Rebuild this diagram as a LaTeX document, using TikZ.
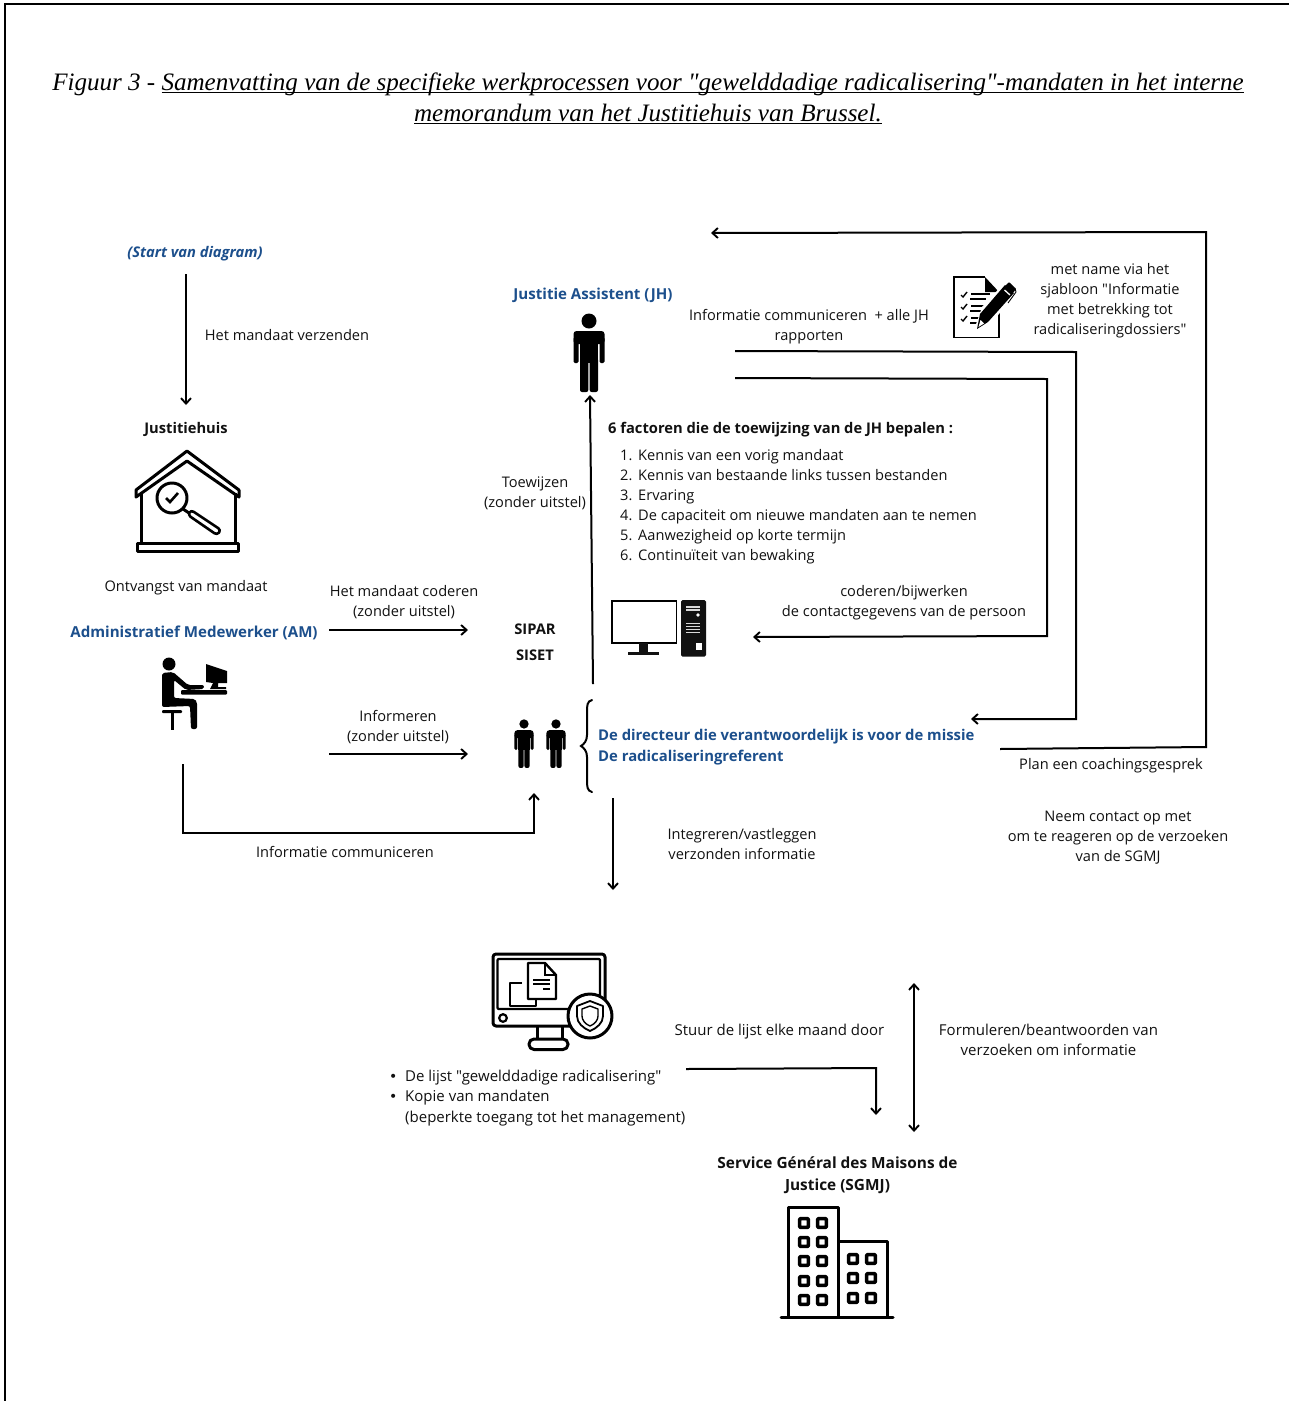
\documentclass[tikz,border=0pt]{standalone}
\usepackage{fontspec}
\newfontfamily\osans{Open Sans}
\newfontfamily\djv{DejaVu Sans}
\newfontfamily\titlefont{Liberation Serif}
\usetikzlibrary{arrows.meta}
\definecolor{dblue}{HTML}{1C4F8C}
\definecolor{ink}{HTML}{111111}
\newsavebox{\ulbox}
\newcommand{\myul}[1]{\sbox{\ulbox}{#1}\rlap{\rule[-3pt]{\wd\ulbox}{1pt}}\usebox{\ulbox}}
\tikzset{
 txt/.style={font=\osans\fontsize{14.6}{20}\selectfont, align=center, inner sep=0, text=ink},
 txtb/.style={font=\osans\fontsize{15}{20.5}\selectfont, align=center, inner sep=0, text=ink},
 single/.style={text height=11pt, text depth=3.5pt, yshift=-2pt},
 ltxt/.style={txt, single, anchor=west, align=left},
 ltxtb/.style={txtb, single, anchor=west, align=left},
 bullet/.style={txtb, anchor=base west, font=\djv\fontsize{14}{14}\selectfont, text height=0pt, text depth=0pt},
 bold/.style={txt, single, font=\osans\fontsize{14.7}{21.5}\selectfont\bfseries},
 lbold/.style={bold, anchor=west},
 blue/.style={bold, text=dblue, font=\osans\fontsize{15}{21.5}\selectfont\bfseries},
 lblue/.style={blue, anchor=west, font=\osans\fontsize{14.85}{21.5}\selectfont\bfseries},
 conn/.style={draw=black, line width=2pt},
 arrow/.style={conn, -{Straight Barb[length=5.5pt,width=10pt,line width=1.9pt]}},
 biarrow/.style={conn, {Straight Barb[length=5.5pt,width=10pt,line width=1.9pt]}-{Straight Barb[length=5.5pt,width=10pt,line width=1.9pt]}},
 icon/.style={draw=black, line width=3pt, line join=round},
 frameline/.style={draw=black, line width=2pt},
}
\newcommand{\personicon}[3]{%
 \begin{scope}[shift={(#1,#2)},scale=#3]
  \fill (0,8) circle (7.5);
  \fill[rounded corners=3pt] (-15.5,18) rectangle (15.5,31);
  \fill[rounded corners=1.5pt] (-15.5,24) rectangle (-10.5,50);
  \fill[rounded corners=1.5pt] (10.5,24) rectangle (15.5,50);
  \fill (-9,24) rectangle (9,50);
  \fill[rounded corners=2pt] (-9,45) rectangle (-0.7,79);
  \fill[rounded corners=2pt] (0.7,45) rectangle (9,79);
 \end{scope}}
\begin{document}
\begin{tikzpicture}[x=1pt,y=-1pt]
\useasboundingbox (0,0) rectangle (1289,1401);
\fill[white] (0,0) rectangle (1289,1401);
% page frame
\draw[frameline] (5,1401) -- (5,3.5) -- (1289,3.5);
% title
\node[inner sep=0, align=center, font=\titlefont\itshape\fontsize{25.06}{31}\selectfont] (title) at (648,98.5)
 {Figuur 3 - \myul{Samenvatting van de specifieke werkprocessen voor "gewelddadige radicalisering"-mandaten in het interne}\\
  \myul{memorandum van het Justitiehuis van Brussel.}};
% texts
\node[txt, single, text=dblue, font=\osans\fontsize{14.7}{20}\selectfont\bfseries\itshape] (start) at (195,252) {(Start van diagram)};
\node[txt, single] (verz) at (287,335) {Het mandaat verzenden};
\node[bold] (jh) at (186,428) {Justitiehuis};
\node[txt, single] (ontv) at (186,586) {Ontvangst van mandaat};
\node[blue, font=\osans\fontsize{15.1}{21.5}\selectfont\bfseries] (am) at (194,632) {Administratief Medewerker (AM)};
\node[txt] (cod) at (404,602) {Het mandaat coderen\\(zonder uitstel)};
\node[bold] (sipar) at (535,629) {SIPAR};
\node[bold] (siset) at (535,655) {SISET};
\node[txt] (info) at (398,727) {Informeren\\(zonder uitstel)};
\node[txt] (toew) at (535,493) {Toewijzen\\(zonder uitstel)};
\node[blue, font=\osans\fontsize{15.1}{21.5}\selectfont\bfseries] (ja) at (593,294) {Justitie Assistent (JH)};
\node[txt] (comm) at (809,327) {Informatie communiceren\ \ + alle JH\\rapporten};
\node[txt] (name) at (1110,301) {met name via het\\sjabloon "Informatie\\met betrekking tot\\radicaliseringdossiers"};
\node[lbold] (fact) at (608,428) {6 factoren die de toewijzing van de JH bepalen :};
\node[ltxt] (n1) at (620,455) {1.}; \node[ltxt] (f1) at (638,455) {Kennis van een vorig mandaat};
\node[ltxt] (n2) at (620,475) {2.}; \node[ltxt] (f2) at (638,475) {Kennis van bestaande links tussen bestanden};
\node[ltxt] (n3) at (620,495) {3.}; \node[ltxt] (f3) at (638,495) {Ervaring};
\node[ltxt] (n4) at (620,515) {4.}; \node[ltxt] (f4) at (638,515) {De capaciteit om nieuwe mandaten aan te nemen};
\node[ltxt] (n5) at (620,535) {5.}; \node[ltxt] (f5) at (638,535) {Aanwezigheid op korte termijn};
\node[ltxt] (n6) at (620,555) {6.}; \node[ltxt] (f6) at (638,555) {Continuïteit van bewaking};
\node[txt] (cb) at (904,603) {coderen/bijwerken\\de contactgegevens van de persoon};
\node[lblue] (dir) at (598,734.5) {De directeur die verantwoordelijk is voor de missie};
\node[lblue] (ref) at (598,755.5) {De radicaliseringreferent};
\node[txt, single] (plan) at (1111,764) {Plan een coachingsgesprek};
\node[txt] (neem) at (1118,838) {Neem contact op met\\om te reageren op de verzoeken\\van de SGMJ};
\node[txt] (integ) at (742,844) {Integreren/vastleggen\\verzonden informatie};
\node[txt, single] (ic) at (345,852) {Informatie communiceren};
\node[txtb, single] (stuur) at (779.5,1030) {Stuur de lijst elke maand door};
\node[txtb] (form) at (1048.5,1040) {Formuleren/beantwoorden van\\verzoeken om informatie};
\node[bullet] (b1) at (389,1081) {\textbullet}; \node[ltxtb] (l1) at (405,1076) {De lijst "gewelddadige radicalisering"};
\node[bullet] (b2) at (389,1101) {\textbullet}; \node[ltxtb] (l2) at (405,1096) {Kopie van mandaten};
\node[ltxtb] (l3) at (405,1117) {(beperkte toegang tot het management)};
\node[txt, font=\osans\fontsize{15.4}{21.5}\selectfont\bfseries] (sgmj) at (837.5,1175) {Service Général des Maisons de\\Justice (SGMJ)};
% connector ends
\coordinate (a1s) at (186,274); \coordinate (a1e) at (186,405);
\coordinate (a2s) at (329,630); \coordinate (a2e) at (468,630);
\coordinate (a3s) at (329,754); \coordinate (a3e) at (468,754);
\coordinate (a4s) at (183,764); \coordinate (a4m) at (183,833); \coordinate (a4n) at (534,833); \coordinate (a4e) at (534,793);
\coordinate (a5s) at (593,684); \coordinate (a5e) at (590,395);
\coordinate (a6s) at (735,351); \coordinate (a6m) at (1076,352); \coordinate (a6n) at (1076,719); \coordinate (a6e) at (971,719);
\coordinate (a7s) at (735,378); \coordinate (a7m) at (1047,379); \coordinate (a7n) at (1047,636); \coordinate (a7e) at (753,637);
\coordinate (a8s) at (1000,749); \coordinate (a8m) at (1206,747); \coordinate (a8n) at (1206,232); \coordinate (a8e) at (711,233);
\coordinate (a9s) at (613,798); \coordinate (a9e) at (613,890);
\coordinate (a10s) at (686,1069); \coordinate (a10m) at (876,1068); \coordinate (a10e) at (876,1115);
\coordinate (a11s) at (914,983); \coordinate (a11e) at (914,1132);
\draw[arrow] (a1s) -- (a1e);
\draw[arrow] (a2s) -- (a2e);
\draw[arrow] (a3s) -- (a3e);
\draw[arrow] (a4s) -- (a4m) -- (a4n) -- (a4e);
\draw[arrow] (a5s) -- (a5e);
\draw[arrow] (a6s) -- (a6m) -- (a6n) -- (a6e);
\draw[arrow] (a7s) -- (a7m) -- (a7n) -- (a7e);
\draw[arrow] (a8s) -- (a8m) -- (a8n) -- (a8e);
\draw[arrow] (a9s) -- (a9e);
\draw[arrow] (a10s) -- (a10m) -- (a10e);
\draw[biarrow] (a11s) -- (a11e);
% brace
\draw[line width=2pt, line cap=round] (592,700) .. controls (587,701) and (587,706) .. (587,712) -- (587,735) .. controls (587,741) and (584,744) .. (581,746) .. controls (584,748) and (587,751) .. (587,757) -- (587,780) .. controls (587,786) and (587,791) .. (592,792);
% persons
\personicon{589}{313}{1}
\personicon{524}{719}{0.62}
\personicon{556}{719}{0.62}
% house icon
\draw[icon] (136,490) -- (187,451) -- (239,490) -- (239,497) -- (187,461) -- (136,497) -- cycle;
\draw[icon] (141,493) -- (141,543); \draw[icon] (235,493) -- (235,543);
\draw[icon] (137,543) rectangle (238,551);
\draw[icon] (172,498) circle (15);
\draw[icon] (183,509) -- (189,513);
\draw[icon, line width=2.6pt, rounded corners=3pt] (188,515) -- (191,510) -- (221,530) -- (217,535) -- cycle;
\draw[line width=2.6pt] (166,498) -- (170,502) -- (178,493);
% AM desk icon
\fill (169,664) circle (6.5);
\fill[rounded corners=2pt] (162,673) -- (173,672) -- (188,685) -- (204,685) -- (204,689) -- (186,690) -- (174,680) -- (174,698) -- (195,699) -- (197,702) -- (197,729) -- (191,729) -- (190,706) -- (162,707) -- cycle;
\fill[rounded corners=1pt] (162,710) rectangle (182,713);
\fill (170.5,712) rectangle (174,730);
\fill[rounded corners=1pt] (181,690) rectangle (227,694.5);
\fill (206,664) -- (227,671) -- (227,683) -- (218,683) -- (218,687) -- (226,687) -- (226,689) -- (210,689) -- (213,683) -- (206,682) -- cycle;
% SIPAR computer
\draw[line width=1.8pt] (612,601) rectangle (676.5,643);
\fill[ink] (639,643) rectangle (648,652);
\fill[ink] (628,652) rectangle (659,654.5);
\fill[ink, rounded corners=1.5pt] (681,600) rectangle (706,656.5);
\fill[white!85!black] (686,606) rectangle (700,607.5);
\fill[white!85!black] (686,609) rectangle (700,610.5);
\fill[white] (698,615) circle (1.8);
\foreach \yy in {623,626,629,632} \fill[white!85!black] (686,\yy) rectangle (700,\yy+1.4);
\fill[white] (696,642.5) rectangle (702,649.5);
% document icon
\draw[line width=1.6pt] (985,277) -- (954,277) -- (954,337.5) -- (999,337.5) -- (999,292);
\fill (985,277) -- (999,292) -- (985,292) -- cycle;
\foreach \yy in {295,307,319} {
 \draw[line width=1.4pt] (961,\yy) -- (963,\yy+2) -- (967,\yy-3);
 \draw[line width=1.6pt] (971,\yy-1) -- (990,\yy-1);
 \draw[line width=1.6pt] (970,\yy+4) -- (986,\yy+4);
}
\fill[white] (974,330) -- (982,307) -- (1006,281) -- (1018,292) -- (992,322) -- cycle;
\fill (977,329) -- (980,314) -- (1005,285) -- (1014,293) -- (988,322) -- cycle;
\fill[white] (978.5,327) -- (980.5,320) -- (984,323.5) -- cycle;
\fill[rounded corners=1pt] (1005,286) -- (1009,282) -- (1016,289) -- (1013,293) -- cycle;
\draw[white, line width=1.3pt] (1004.5,290) -- (1010,295);
\draw[line width=0.9pt] (1015,288) -- (1016,292) -- (1008,303);
% secure monitor icon
\draw[icon, rounded corners=3pt] (493,954) rectangle (605,1026);
\draw[icon, line width=2.2pt, rounded corners=1pt] (497.5,1009) -- (497.5,959) -- (600,959) -- (600,1009) -- cycle;
\draw[icon, line width=2.2pt] (503,1018) circle (3.8);
\draw[icon] (537,1026) -- (537,1039); \draw[icon] (562,1026) -- (562,1039);
\draw[icon, rounded corners=5pt] (529,1039) rectangle (568,1049.5);
\draw[icon, line width=2.4pt] (522,983) -- (510,983) -- (510,1006) -- (536,1006) -- (536,999);
\draw[icon, line width=2.4pt, fill=white] (528,963) -- (545,963) -- (556,975) -- (556,999) -- (528,999) -- cycle;
\draw[line width=1.8pt] (545,963) -- (545,975) -- (556,975);
\draw[line width=1.8pt] (533,980) -- (550,980); \draw[line width=1.8pt] (533,984) -- (550,984); \draw[line width=1.8pt] (543,989) -- (550,989);
\draw[icon, fill=white] (590,1016) circle (22);
\draw[line width=1.8pt, line join=round] (590,1001) -- (603,1006) -- (603,1016) .. controls (603,1023) and (597,1028) .. (590,1031) .. controls (583,1028) and (577,1023) .. (577,1016) -- (577,1006) -- cycle;
\draw[line width=1.4pt, line join=round] (590,1006) -- (598,1009) -- (598,1016) .. controls (598,1020) and (595,1024) .. (590,1026) .. controls (585,1024) and (582,1020) .. (582,1016) -- (582,1009) -- cycle;
% building icon
\draw[icon, line cap=round] (781,1317) -- (893,1317);
\draw[icon] (788,1317) -- (788,1207) -- (838,1207) -- (838,1317);
\draw[icon] (838,1241) -- (887,1241) -- (887,1317);
\foreach \yy in {1223,1242,1261,1281,1300} \foreach \xx in {804,822}
 \draw[icon, line width=3.6pt, rounded corners=1pt] (\xx-4.4,\yy-4.4) rectangle (\xx+4.4,\yy+4.4);
\foreach \yy in {1259,1278,1298} \foreach \xx in {853,871}
 \draw[icon, line width=3.6pt, rounded corners=1pt] (\xx-4.4,\yy-4.4) rectangle (\xx+4.4,\yy+4.4);
\end{tikzpicture}
\end{document}
